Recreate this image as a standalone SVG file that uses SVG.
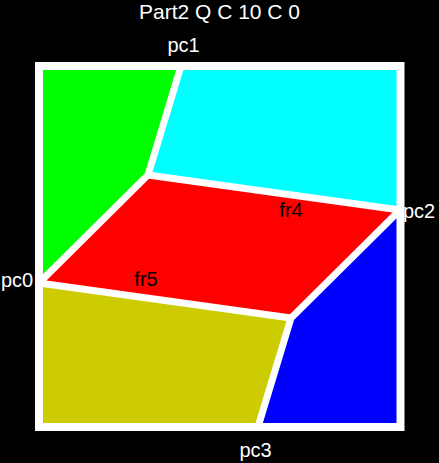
<svg xmlns="http://www.w3.org/2000/svg" width="439" height="463" viewBox="0 0 439 463">
<style>
.lbl{font-family:"Liberation Sans",Arial,sans-serif;font-size:20px;fill:#ffffff}
.fr{font-family:"Liberation Sans",Arial,sans-serif;font-size:20px;fill:#000000}
.edge{fill:none;stroke:#ffffff;stroke-width:7;stroke-linejoin:miter}
</style>
<rect x="0" y="0" width="439" height="463" fill="#000000"/>
<text class="lbl" x="219.5" y="19" text-anchor="middle" style="font-size:21px">Part2 Q C 10 C 0</text>
<g id="fr_green"><polygon points="39,66 181,66 148,175 39,283" fill="#00ff00"/></g>
<g id="fr_cyan"><polygon points="181,66 400,66 400,210 148,175" fill="#00ffff"/></g>
<g id="fr4"><polygon points="148,175 400,210 291,318 39,283" fill="#ff0000"/><text class="fr" x="291" y="217" text-anchor="middle">fr4</text></g>
<g id="fr_blue"><polygon points="400,210 400,427 258,427 291,318" fill="#0000ff"/></g>
<g id="fr_yellow"><polygon points="39,283 291,318 258,427 39,427" fill="#cccc00"/></g>
<g id="fr5"><text class="fr" x="146" y="286" text-anchor="middle">fr5</text></g>
<g id="connectors">
<polyline class="edge" points="181,66 148,175 39,283"/>
<polyline class="edge" points="148,175 400,210"/>
<polyline class="edge" points="400,210 291,318 258,427"/>
<polyline class="edge" points="39,283 291,318"/>
<rect class="edge" x="39" y="66" width="361.5" height="361" style="stroke-width:8"/>
</g>
<g id="pc1"><text class="lbl" x="183.5" y="52" text-anchor="middle">pc1</text></g>
<g id="pc2"><text class="lbl" x="403" y="218">pc2</text></g>
<g id="pc0"><text class="lbl" x="1" y="287">pc0</text></g>
<g id="pc3"><text class="lbl" x="255.5" y="457" text-anchor="middle">pc3</text></g>
</svg>
